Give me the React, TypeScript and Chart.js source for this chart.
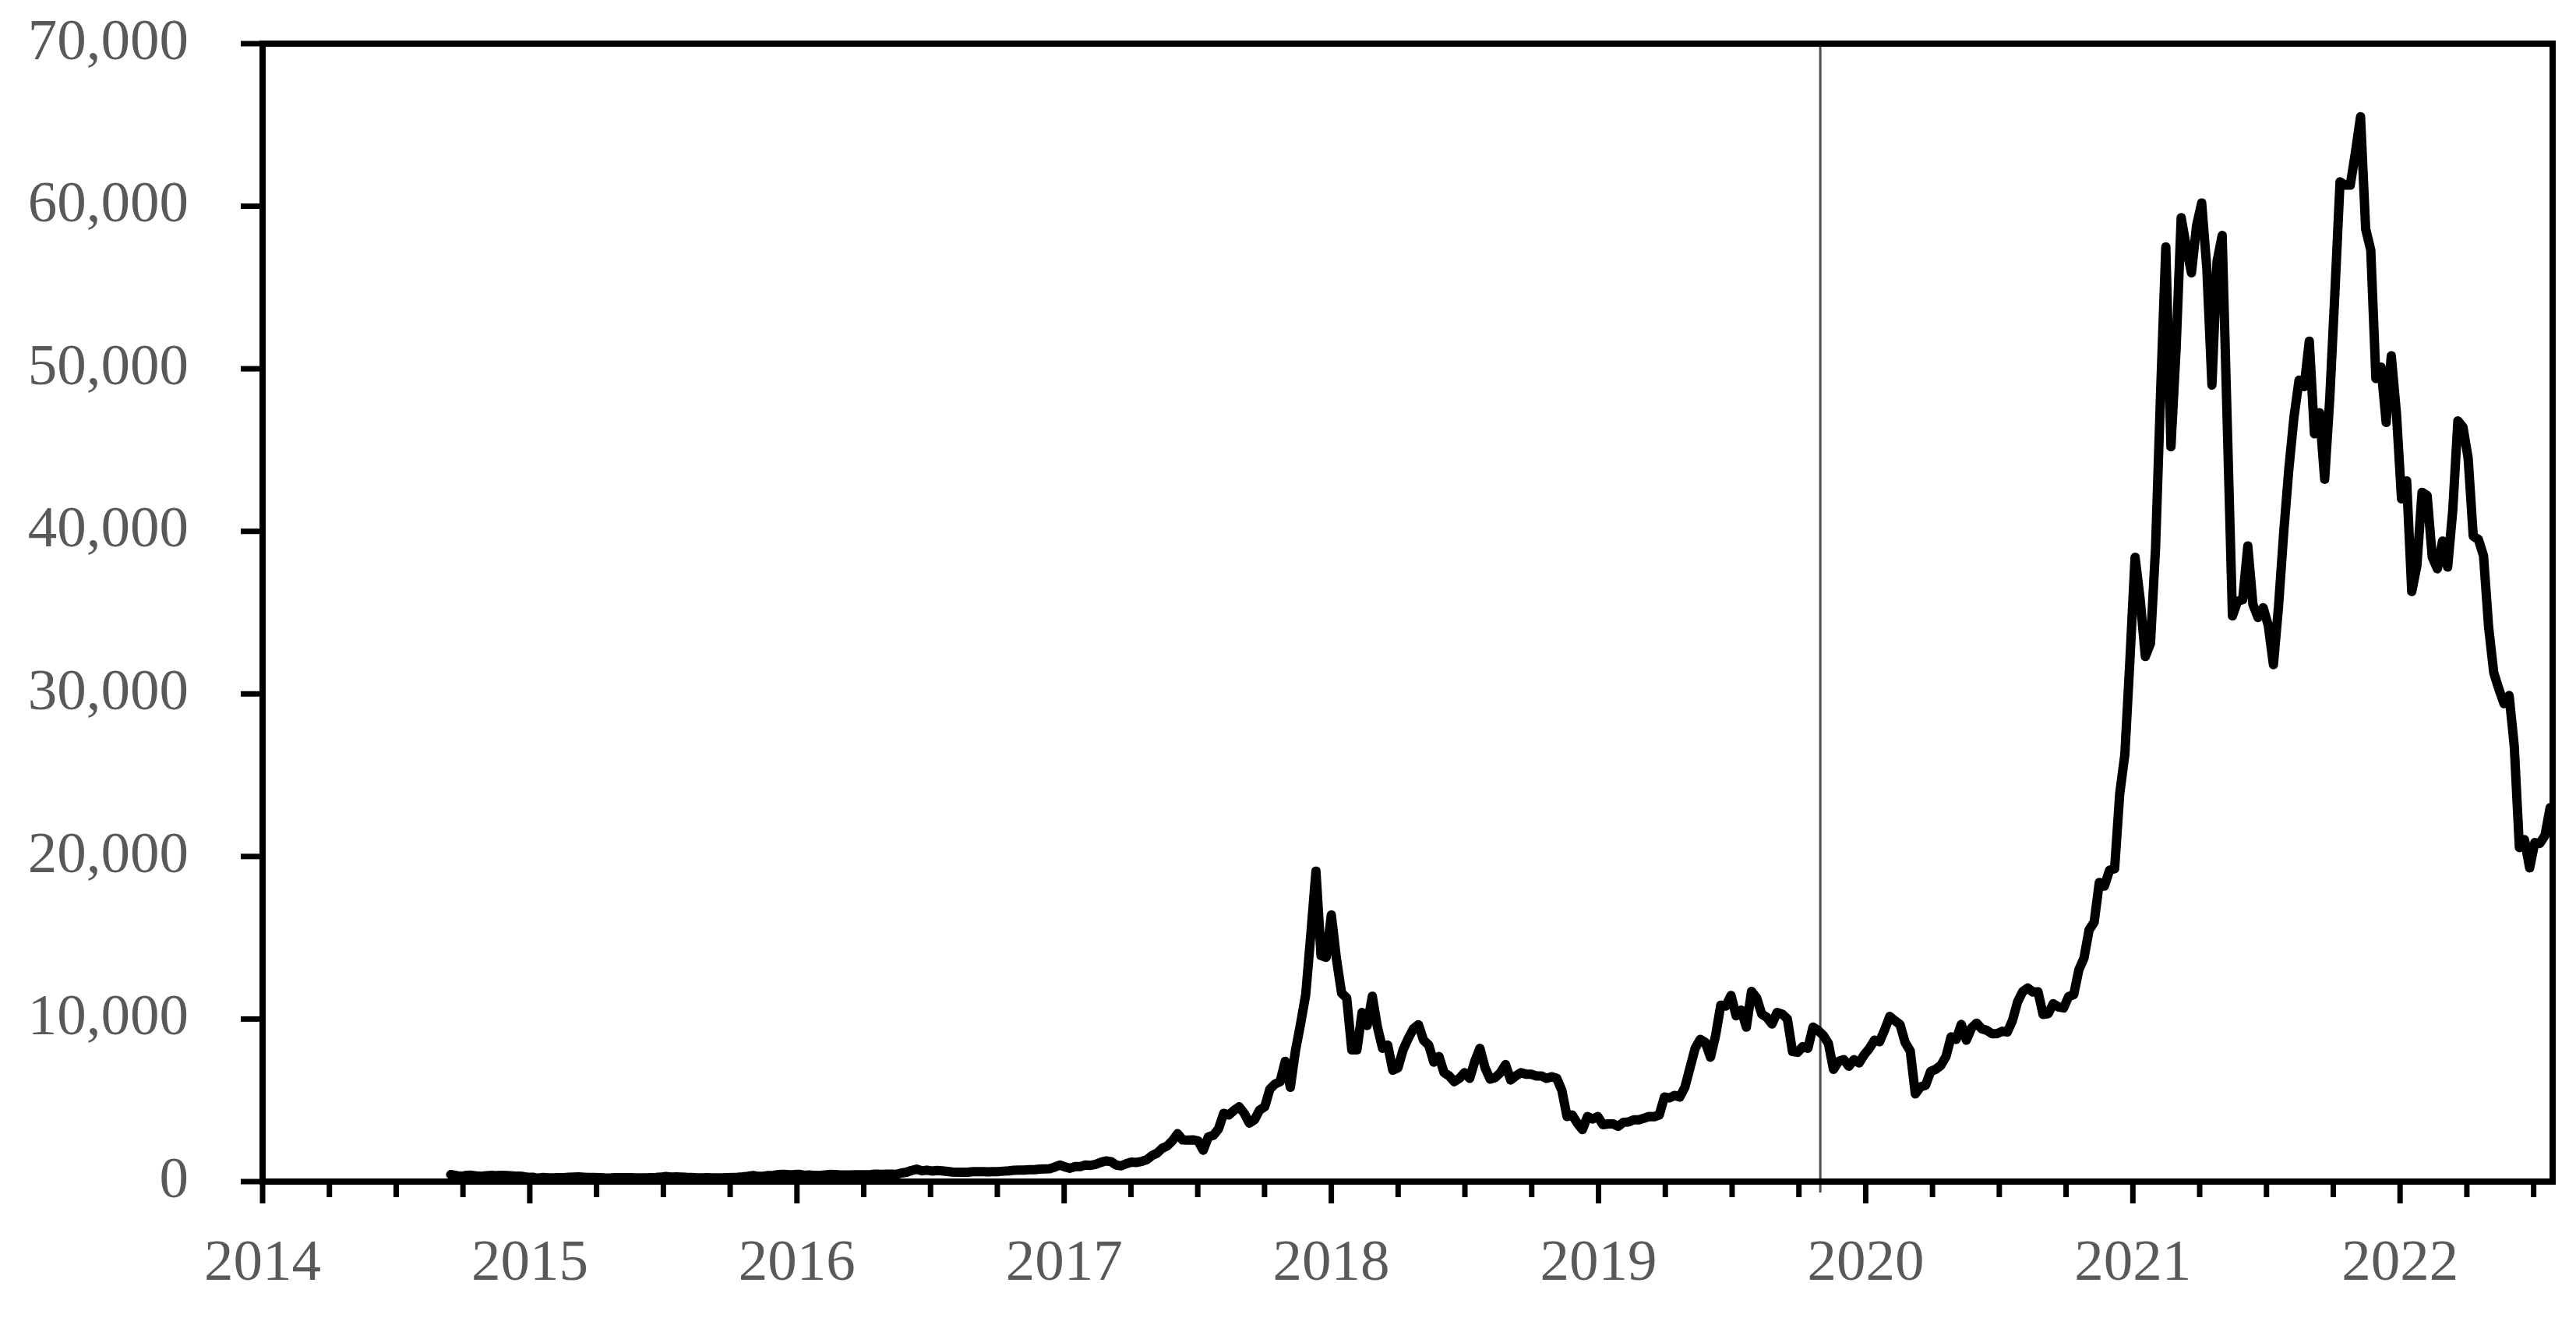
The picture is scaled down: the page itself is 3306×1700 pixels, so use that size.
import React, { useEffect, useRef } from 'react';
import { Chart, registerables } from 'chart.js';

Chart.register(...registerables);

// Weekly observations, one per Monday, starting with this week
const firstWeek = { year: 2014, month: 9, day: 15 };

// Weekly closing price (USD), grouped by calendar year of the week label
const price2014 = [430, 377, 320, 379, 391, 354, 325, 366, 387, 366, 378, 376, 351, 330, 318, 264];
const price2015 = [268, 210, 254, 226, 223, 234, 244, 260, 274, 285, 266, 248, 255, 236, 223, 219, 240, 240, 237, 241, 230, 226, 233, 245, 250, 271, 310, 276, 292, 281, 265, 257, 228, 229, 241, 230, 231, 233, 238, 247, 262, 285, 325, 373, 320, 322, 371, 389, 434, 442, 422, 430];
const price2016 = [448, 387, 403, 378, 376, 407, 438, 433, 403, 413, 410, 417, 420, 420, 429, 460, 448, 458, 455, 439, 527, 574, 684, 763, 665, 703, 650, 679, 661, 624, 591, 570, 581, 573, 610, 608, 609, 603, 611, 617, 641, 657, 701, 711, 705, 731, 729, 765, 778, 790, 891, 1021];
const price2017 = [903, 821, 922, 919, 1024, 1000, 1060, 1180, 1270, 1230, 1020, 966, 1100, 1200, 1180, 1240, 1350, 1600, 1750, 2050, 2200, 2520, 2950, 2560, 2550, 2570, 2500, 1930, 2750, 2850, 3250, 4200, 4100, 4380, 4600, 4200, 3600, 3800, 4400, 4600, 5680, 6000, 6150, 7400, 5800, 8050, 9700, 11500, 15200, 19100, 13900, 13800];
const price2018 = [16400, 13700, 11600, 11300, 8100, 8100, 10400, 9600, 11400, 9500, 8200, 8400, 6850, 7000, 8100, 8800, 9400, 9650, 8700, 8400, 7350, 7700, 6700, 6500, 6150, 6350, 6700, 6350, 7400, 8200, 7000, 6300, 6400, 6700, 7200, 6250, 6500, 6700, 6600, 6600, 6500, 6500, 6350, 6450, 6350, 5600, 4000, 4100, 3600, 3200, 4000, 3850, 4000];
const price2019 = [3500, 3550, 3550, 3400, 3650, 3670, 3800, 3800, 3900, 4000, 3990, 4100, 5200, 5150, 5300, 5200, 5800, 7000, 8200, 8750, 8550, 7650, 9000, 10850, 10800, 11450, 10200, 10550, 9500, 11700, 11300, 10300, 10100, 9700, 10400, 10300, 10000, 8000, 7950, 8300, 8200, 9500, 9300, 9000, 8500, 6900, 7400, 7500, 7100, 7500, 7300, 7800];
const price2020 = [8190, 8700, 8600, 9340, 10160, 9900, 9660, 8560, 8040, 5390, 5830, 5920, 6780, 6910, 7150, 7700, 8900, 8750, 9670, 8700, 9450, 9750, 9400, 9300, 9100, 9100, 9250, 9200, 9900, 11050, 11680, 11910, 11660, 11680, 10280, 10330, 10940, 10750, 10680, 11380, 11500, 13030, 13740, 15480, 15960, 18400, 18180, 19150, 19250, 23870, 26270, 32130];
const price2021 = [38400, 35800, 32300, 33100, 39000, 48700, 57500, 45200, 51200, 59300, 57500, 55900, 58800, 60200, 56200, 49000, 56600, 58200, 46500, 34800, 35700, 35800, 39100, 35500, 34700, 35300, 34200, 31800, 35400, 39900, 43800, 47000, 49300, 48900, 51700, 46000, 47300, 43200, 48200, 54700, 61500, 61300, 61300, 63300, 65500, 58600, 57300, 49400, 50100, 46700, 50800, 47300];
const price2022 = [42000, 43100, 36300, 37900, 42400, 42200, 38400, 37700, 39400, 37800, 41300, 46800, 46400, 44500, 39700, 39500, 38500, 34100, 31300, 30300, 29400, 29900, 26800, 20550, 21030, 19300, 20850, 20800, 21300, 23000];

// Axes
const yearLabels = [2014, 2015, 2016, 2017, 2018, 2019, 2020, 2021, 2022];
const xMin = 2014;
const xMax = 2022.571;
const yMin = 0;
const yMax = 70000;
const yStep = 10000;

// Vertical reference line (early November 2019)
const markerYear = 2019.83;

const prices = [
  ...price2014, ...price2015, ...price2016, ...price2017, ...price2018,
  ...price2019, ...price2020, ...price2021, ...price2022,
];

function toDecimalYear(t: number): number {
  const y = new Date(t).getUTCFullYear();
  const a = Date.UTC(y, 0, 1);
  const b = Date.UTC(y + 1, 0, 1);
  return y + (t - a) / (b - a);
}

const start = Date.UTC(firstWeek.year, firstWeek.month - 1, firstWeek.day);
const weekMs = 7 * 24 * 3600 * 1000;
const points = prices.map((p, i) => ({ x: toDecimalYear(start + i * weekMs), y: p }));

const frameAndTicks = {
  id: 'frameAndTicks',
  afterDatasetsDraw(chart: any) {
    const { ctx, chartArea: a, scales } = chart;
    const xs = scales.x;
    const ys = scales.y;
    ctx.save();
    // marker extension below axis
    const mx = xs.getPixelForValue(markerYear);
    ctx.strokeStyle = '#4d4d4d';
    ctx.lineWidth = 3;
    ctx.beginPath();
    ctx.moveTo(mx, a.bottom);
    ctx.lineTo(mx, a.bottom + 14);
    ctx.stroke();

    ctx.strokeStyle = '#000';
    ctx.lineCap = 'butt';
    ctx.lineWidth = 7;
    for (const t of xs.ticks) {
      const v = t.value;
      const px = xs.getPixelForValue(v);
      const major = Math.abs(v - Math.round(v)) < 1e-6;
      ctx.beginPath();
      ctx.moveTo(px, a.bottom);
      ctx.lineTo(px, a.bottom + (major ? 28 : 20));
      ctx.stroke();
    }
    for (const t of ys.ticks) {
      const py = ys.getPixelForValue(t.value);
      ctx.beginPath();
      ctx.moveTo(a.left - 28, py);
      ctx.lineTo(a.left, py);
      ctx.stroke();
    }
    ctx.lineWidth = 8;
    ctx.strokeRect(a.left, a.top, a.right - a.left, a.bottom - a.top);
    ctx.restore();
  },
};

export default function App() {
  const ref = useRef<HTMLCanvasElement | null>(null);

  useEffect(() => {
    const canvas = ref.current;
    if (!canvas) return;
    const font = { family: "'Liberation Serif', 'Times New Roman', serif", size: 75 };
    const chart = new Chart(canvas, {
      type: 'line',
      data: {
        datasets: [
          {
            label: 'Price',
            data: points,
            borderColor: '#000',
            borderWidth: 12,
            borderJoinStyle: 'round',
            borderCapStyle: 'round',
            pointRadius: 0,
            tension: 0,
            fill: false,
          },
          {
            label: 'Marker',
            data: [
              { x: markerYear, y: yMin },
              { x: markerYear, y: yMax },
            ],
            borderColor: '#4d4d4d',
            borderWidth: 3,
            pointRadius: 0,
            fill: false,
          },
        ],
      },
      options: {
        responsive: false,
        animation: false,
        devicePixelRatio: 1,
        layout: { padding: { top: 56, right: 30, bottom: 0, left: 0 } },
        plugins: {
          legend: { display: false },
          tooltip: { enabled: false },
        },
        scales: {
          x: {
            type: 'linear',
            min: xMin,
            max: xMax,
            grid: { display: false, drawTicks: false },
            border: { display: false },
            afterFit: (s: any) => {
              s.height = 184;
              s.paddingLeft = 0;
              s.paddingRight = 0;
              s.paddingTop = 0;
              s.paddingBottom = 0;
            },
            ticks: {
              stepSize: 0.25,
              autoSkip: false,
              includeBounds: false,
              maxRotation: 0,
              minRotation: 0,
              padding: 61,
              color: '#595959',
              font,
              callback: (v: any) => {
                const n = Number(v);
                return yearLabels.includes(n) ? String(n) : '';
              },
            },
          },
          y: {
            type: 'linear',
            min: yMin,
            max: yMax,
            grid: { display: false, drawTicks: false },
            border: { display: false },
            afterFit: (s: any) => {
              s.width = 337;
              s.paddingTop = 0;
              s.paddingBottom = 0;
              s.paddingLeft = 0;
              s.paddingRight = 0;
            },
            ticks: {
              stepSize: yStep,
              padding: 95,
              color: '#595959',
              font,
              callback: (v: any) => Number(v).toLocaleString('en-US'),
            },
          },
        },
      },
      plugins: [frameAndTicks],
    });
    return () => chart.destroy();
  }, []);

  return (
    <div style={{ position: 'absolute', left: 0, top: 0, width: 3306, height: 1700, background: '#fff' }}>
      <canvas ref={ref} width={3306} height={1700} style={{ display: 'block' }} />
    </div>
  );
}
